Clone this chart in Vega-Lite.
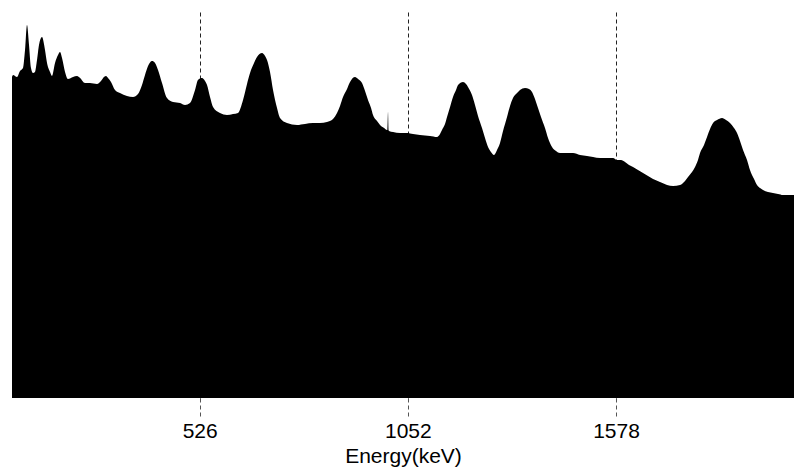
{
  "$schema": "https://vega.github.io/schema/vega-lite/v6.json",
  "width": 782,
  "height": 386,
  "autosize": {"type": "none"},
  "padding": {"left": 12, "top": 12, "right": 0, "bottom": 77},
  "background": "white",
  "config": {"view": {"stroke": null}},
  "data": {"values": [
    {"e": 51.7, "c": 321}, {"e": 54.3, "c": 323}, {"e": 64.4, "c": 321}, {"e": 71.9, "c": 327}, {"e": 79.5, "c": 330},
    {"e": 84.6, "c": 348}, {"e": 89.6, "c": 373}, {"e": 94.7, "c": 353}, {"e": 99.7, "c": 330}, {"e": 104.8, "c": 325},
    {"e": 109.8, "c": 326}, {"e": 114.9, "c": 338}, {"e": 119.9, "c": 353}, {"e": 127.5, "c": 361}, {"e": 135.1, "c": 348},
    {"e": 140.2, "c": 335}, {"e": 147.8, "c": 326}, {"e": 152.8, "c": 322}, {"e": 160.4, "c": 335}, {"e": 168.0, "c": 343},
    {"e": 173.0, "c": 346}, {"e": 178.1, "c": 340}, {"e": 185.7, "c": 326}, {"e": 193.2, "c": 319}, {"e": 205.9, "c": 321},
    {"e": 216.0, "c": 322}, {"e": 223.6, "c": 320}, {"e": 236.2, "c": 315}, {"e": 248.8, "c": 315}, {"e": 266.5, "c": 314},
    {"e": 276.6, "c": 317}, {"e": 284.2, "c": 321}, {"e": 289.3, "c": 322}, {"e": 294.3, "c": 320}, {"e": 301.9, "c": 316},
    {"e": 312.0, "c": 308}, {"e": 324.6, "c": 305}, {"e": 342.3, "c": 302}, {"e": 357.5, "c": 301}, {"e": 370.1, "c": 304},
    {"e": 380.2, "c": 313}, {"e": 387.8, "c": 323}, {"e": 395.4, "c": 332}, {"e": 405.5, "c": 337}, {"e": 413.1, "c": 335},
    {"e": 420.7, "c": 328}, {"e": 430.8, "c": 315}, {"e": 443.4, "c": 300}, {"e": 458.6, "c": 296}, {"e": 476.3, "c": 295},
    {"e": 488.9, "c": 293}, {"e": 501.5, "c": 295}, {"e": 514.2, "c": 308}, {"e": 521.7, "c": 318}, {"e": 531.9, "c": 320},
    {"e": 539.4, "c": 317}, {"e": 544.5, "c": 313}, {"e": 552.1, "c": 301}, {"e": 559.7, "c": 291}, {"e": 577.3, "c": 285},
    {"e": 595.0, "c": 283}, {"e": 610.2, "c": 284}, {"e": 622.8, "c": 285}, {"e": 635.5, "c": 298}, {"e": 645.6, "c": 314},
    {"e": 653.2, "c": 325}, {"e": 663.3, "c": 335}, {"e": 670.8, "c": 341}, {"e": 683.5, "c": 345}, {"e": 691.1, "c": 342},
    {"e": 696.1, "c": 338}, {"e": 703.7, "c": 326}, {"e": 711.3, "c": 308}, {"e": 721.4, "c": 290}, {"e": 729.0, "c": 280},
    {"e": 746.6, "c": 275}, {"e": 771.9, "c": 273}, {"e": 792.1, "c": 274}, {"e": 812.3, "c": 275}, {"e": 830.0, "c": 275},
    {"e": 847.7, "c": 276}, {"e": 862.9, "c": 279}, {"e": 873.0, "c": 285}, {"e": 880.6, "c": 292}, {"e": 888.2, "c": 301},
    {"e": 898.3, "c": 309}, {"e": 905.9, "c": 316}, {"e": 918.5, "c": 321}, {"e": 926.1, "c": 319}, {"e": 936.2, "c": 315},
    {"e": 943.8, "c": 307}, {"e": 951.3, "c": 298}, {"e": 959.0, "c": 290}, {"e": 964.0, "c": 283}, {"e": 974.1, "c": 277},
    {"e": 981.7, "c": 273}, {"e": 991.8, "c": 270}, {"e": 999.3, "c": 268}, {"e": 1000.6, "c": 268}, {"e": 1001.9, "c": 286},
    {"e": 1003.2, "c": 268}, {"e": 1004.4, "c": 267}, {"e": 1014.5, "c": 266}, {"e": 1032.2, "c": 265}, {"e": 1049.9, "c": 265},
    {"e": 1065.1, "c": 264}, {"e": 1082.7, "c": 263}, {"e": 1108.0, "c": 262}, {"e": 1125.7, "c": 261}, {"e": 1133.3, "c": 264},
    {"e": 1138.3, "c": 268}, {"e": 1145.9, "c": 274}, {"e": 1151.0, "c": 281}, {"e": 1158.6, "c": 291}, {"e": 1166.1, "c": 301},
    {"e": 1173.7, "c": 308}, {"e": 1178.8, "c": 313}, {"e": 1191.4, "c": 316}, {"e": 1199.0, "c": 314}, {"e": 1204.0, "c": 311},
    {"e": 1214.1, "c": 303}, {"e": 1221.7, "c": 293}, {"e": 1229.3, "c": 282}, {"e": 1239.4, "c": 270}, {"e": 1247.0, "c": 260},
    {"e": 1254.6, "c": 251}, {"e": 1262.1, "c": 246}, {"e": 1269.7, "c": 243}, {"e": 1277.3, "c": 248}, {"e": 1284.9, "c": 255},
    {"e": 1292.5, "c": 267}, {"e": 1302.6, "c": 281}, {"e": 1310.2, "c": 292}, {"e": 1317.7, "c": 300}, {"e": 1327.9, "c": 305},
    {"e": 1335.4, "c": 308}, {"e": 1348.1, "c": 310}, {"e": 1358.2, "c": 309}, {"e": 1365.8, "c": 306}, {"e": 1373.3, "c": 299},
    {"e": 1380.9, "c": 290}, {"e": 1388.5, "c": 281}, {"e": 1398.6, "c": 270}, {"e": 1406.2, "c": 260}, {"e": 1416.3, "c": 251},
    {"e": 1426.4, "c": 247}, {"e": 1436.5, "c": 245}, {"e": 1454.2, "c": 245}, {"e": 1469.4, "c": 245}, {"e": 1487.1, "c": 243},
    {"e": 1504.7, "c": 242}, {"e": 1519.9, "c": 241}, {"e": 1537.6, "c": 240}, {"e": 1555.3, "c": 240}, {"e": 1570.5, "c": 240},
    {"e": 1580.5, "c": 238}, {"e": 1590.7, "c": 238}, {"e": 1600.8, "c": 236}, {"e": 1610.9, "c": 233}, {"e": 1621.0, "c": 231},
    {"e": 1633.6, "c": 228}, {"e": 1646.3, "c": 225}, {"e": 1658.9, "c": 222}, {"e": 1671.6, "c": 219}, {"e": 1689.2, "c": 216},
    {"e": 1707.0, "c": 213}, {"e": 1722.1, "c": 212}, {"e": 1739.8, "c": 213}, {"e": 1752.4, "c": 217}, {"e": 1760.0, "c": 221},
    {"e": 1770.1, "c": 226}, {"e": 1777.7, "c": 231}, {"e": 1785.2, "c": 238}, {"e": 1790.3, "c": 245}, {"e": 1800.4, "c": 253},
    {"e": 1808.0, "c": 261}, {"e": 1815.6, "c": 269}, {"e": 1823.2, "c": 275}, {"e": 1833.3, "c": 278}, {"e": 1845.9, "c": 280},
    {"e": 1856.0, "c": 278}, {"e": 1866.1, "c": 275}, {"e": 1876.2, "c": 270}, {"e": 1883.8, "c": 265}, {"e": 1891.4, "c": 257},
    {"e": 1899.0, "c": 248}, {"e": 1909.1, "c": 238}, {"e": 1916.6, "c": 228}, {"e": 1926.8, "c": 219}, {"e": 1934.3, "c": 213},
    {"e": 1941.9, "c": 210}, {"e": 1949.5, "c": 208}, {"e": 1962.1, "c": 206}, {"e": 1974.7, "c": 205}, {"e": 1987.4, "c": 204},
    {"e": 2000.0, "c": 203}, {"e": 2012.7, "c": 203}, {"e": 2027.8, "c": 203}
  ]},
  "mark": {"type": "area", "color": "black", "interpolate": "monotone"},
  "encoding": {
    "x": {
      "field": "e", "type": "quantitative",
      "scale": {"domain": [51.7, 2027.8], "nice": false, "zero": false},
      "axis": {
        "title": "Energy(keV)",
        "values": [526, 1052, 1578],
        "format": "d",
        "domain": false,
        "grid": true,
        "gridDash": [4, 3],
        "gridColor": "#222",
        "gridOpacity": 1,
        "gridWidth": 1,
        "tickDash": [4, 3],
        "tickColor": "#555",
        "tickSize": 18,
        "tickWidth": 1,
        "labelFont": "Liberation Sans",
        "labelFontSize": 21,
        "labelColor": "black",
        "labelPadding": 4,
        "titleFont": "Liberation Sans",
        "titleFontSize": 21,
        "titleFontWeight": "normal",
        "titleColor": "black",
        "titlePadding": 4
      }
    },
    "y": {
      "field": "c", "type": "quantitative",
      "scale": {"domain": [0, 386], "nice": false},
      "axis": null
    }
  }
}
